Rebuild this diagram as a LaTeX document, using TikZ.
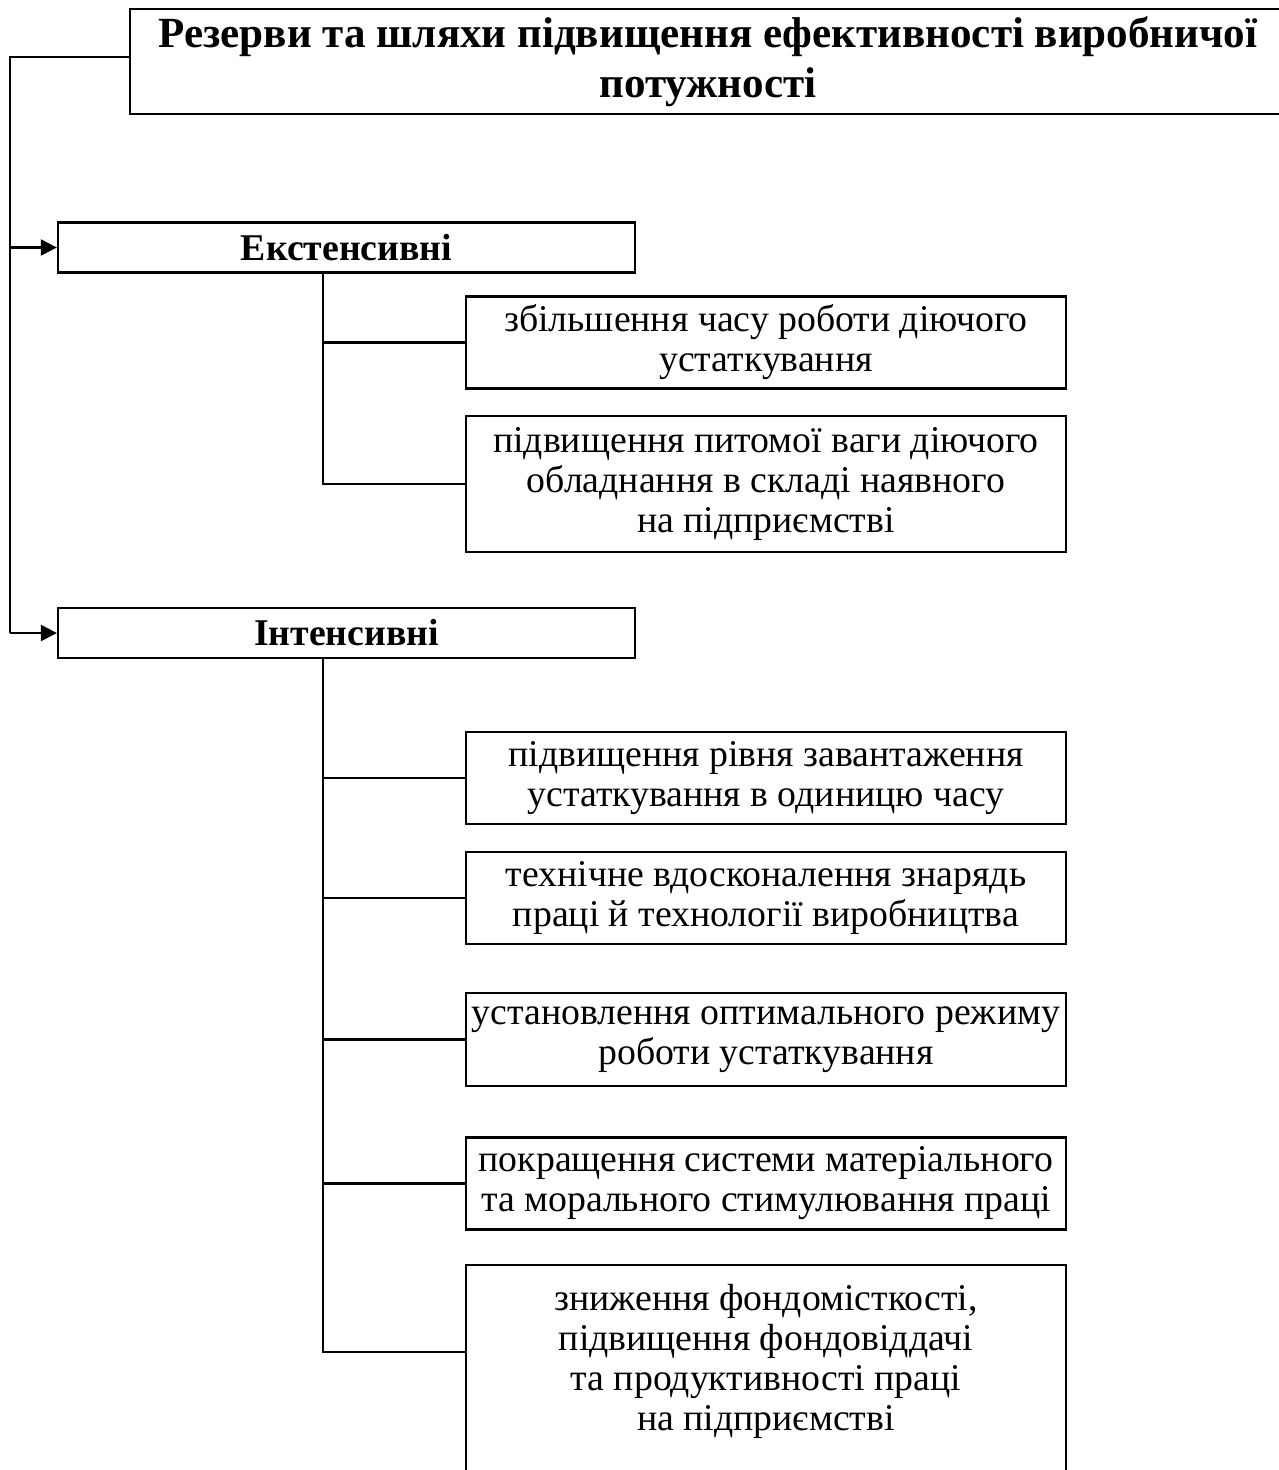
\documentclass[tikz,border=0pt]{standalone}
\usepackage{fontspec}
\setmainfont{Liberation Serif}
\usetikzlibrary{arrows.meta}

\begin{document}
\begin{tikzpicture}[
  % Node styles
  titlebox/.style={rectangle, draw=black, line width=1.3pt,
    minimum width=23.12cm, minimum height=2.1cm, align=center,
    font=\fontsize{24.5}{28.5}\selectfont\bfseries},
  catbox/.style={rectangle, draw=black, line width=1.3pt,
    minimum width=11.54cm, minimum height=1cm, align=center,
    font=\fontsize{21.5}{23}\selectfont\bfseries},
  waybox/.style={rectangle, draw=black, line width=1.3pt,
    minimum width=12cm, minimum height=1.84cm, align=center, inner xsep=1pt,
    font=\fontsize{21.5}{22.8}\selectfont},
  link/.style={draw=black, line width=1.3pt},
  arr/.style={-{Triangle[length=0.32cm, width=0.32cm]}, draw=black, line width=1.3pt},
]

% === Page frame ===
\useasboundingbox (0,0) rectangle (25.58,-29.4);

% === Column positions ===
\def\colA{6.93}
\def\colB{15.32}
\def\trunk{6.46}

% === Title ===
\node[titlebox] (title) at (14.16, -1.23)
  {Резерви та шляхи підвищення ефективності виробничої\\потужності};

% === Two groups of reserves ===
\node[catbox] (ekst) at (\colA, -4.95) {Екстенсивні};
\node[catbox] (inten) at (\colA, -12.66) {Інтенсивні};

% === Extensive ways ===
\node[waybox] (e1) at (\colB, -6.85) {збільшення часу роботи діючого\\устаткування};
\node[waybox, minimum height=2.72cm] (e2) at (\colB, -9.68)
  {підвищення питомої ваги діючого\\обладнання в складі наявного\\на підприємстві};

% === Intensive ways ===
\node[waybox] (i1) at (\colB, -15.56) {підвищення рівня завантаження\\устаткування в одиницю часу};
\node[waybox] (i2) at (\colB, -17.96) {технічне вдосконалення знарядь\\праці й технології виробництва};
\node[waybox, minimum height=1.86cm] (i3) at (\colB, -20.79) {установлення оптимального режиму\\роботи устаткування};
\node[waybox] (i4) at (\colB, -23.67) {покращення системи матеріального\\та морального стимулювання праці};
\node[waybox, anchor=north, minimum height=4.5cm] (i5) at (\colB, -25.28)
  {зниження фондомісткості,\\підвищення фондовіддачі\\та продуктивності праці\\на підприємстві\\ \mbox{}};

% === Left rail from the title ===
\coordinate (rail) at (0.2, -12.66);
\draw[link] ([yshift=0.09cm]title.west) -| (rail);
\draw[arr] (ekst.west -| rail) -- (ekst.west);
\draw[arr] (inten.west -| rail) -- (inten.west);

% === Extensive branches ===
\draw[link] (ekst.south -| \trunk,0) |- (e2.west);
\draw[link] (e1.west -| \trunk,0) -- (e1.west);

% === Intensive branches ===
\coordinate (b5) at (\trunk, -27.04);
\draw[link] (inten.south -| b5) -- (b5) -- (b5 -| i5.west);
\draw[link] (i1.west -| b5) -- (i1.west);
\draw[link] (i2.west -| b5) -- (i2.west);
\draw[link] (i3.west -| b5) -- (i3.west);
\draw[link] (i4.west -| b5) -- (i4.west);

\end{tikzpicture}
\end{document}
